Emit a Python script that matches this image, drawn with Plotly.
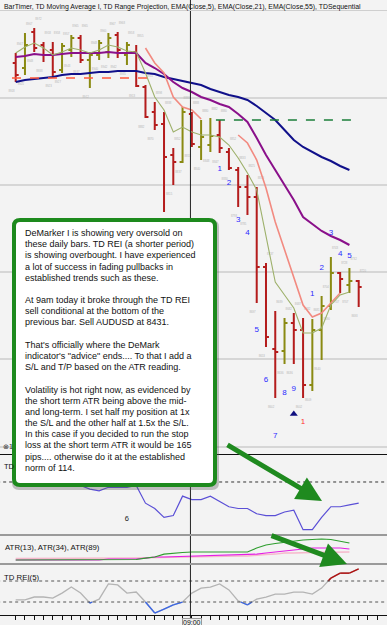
import plotly.graph_objects as go

W, H = 387, 625

# ---------------- data ----------------
bar_idx = list(range(38))
opens  = [8937, 8932, 8968, 8955, 8950, 8930, 8950, 8962, 8940, 8945, 8948, 8965, 8945, 8948, 8913, 8888, 8876, 8845, 8838, 8886,
          8853, 8855, 8865, 8848, 8830, 8813, 8803, 8733, 8651, 8649, 8677, 8670, 8615, 8670, 8694, 8727, 8715, 8719]
highs  = [8947, 8967, 8972, 8958, 8958, 8957, 8965, 8965, 8948, 8960, 8967, 8968, 8958, 8955, 8915, 8898, 8888, 8852, 8893, 8888,
          8880, 8882, 8880, 8852, 8833, 8825, 8813, 8737, 8689, 8682, 8687, 8682, 8681, 8704, 8743, 8728, 8732, 8720]
lows   = [8918, 8925, 8948, 8938, 8923, 8927, 8943, 8937, 8912, 8940, 8942, 8942, 8935, 8913, 8882, 8870, 8788, 8815, 8837, 8853,
          8840, 8848, 8847, 8830, 8793, 8785, 8697, 8653, 8602, 8636, 8636, 8602, 8609, 8640, 8690, 8707, 8707, 8693]
closes = [8925, 8955, 8952, 8945, 8928, 8954, 8962, 8940, 8945, 8957, 8962, 8950, 8955, 8914, 8883, 8875, 8843, 8838, 8888, 8856,
          8863, 8864, 8852, 8832, 8813, 8803, 8733, 8663, 8648, 8677, 8670, 8615, 8670, 8694, 8727, 8721, 8719, 8713]

ema5 = [8947, 8953, 8957, 8952, 8945, 8948, 8952, 8950, 8947, 8950, 8955, 8953, 8949, 8948, 8927, 8903, 8890, 8868, 8873, 8868,
        8865, 8865, 8863, 8855, 8842, 8827, 8810, 8765, 8718, 8705, 8692, 8667, 8667, 8672, 8695, 8705, 8708]
ema21 = [8943, 8944, 8946, 8945, 8945, 8946, 8947, 8947, 8947, 8947, 8948, 8947, 8947, 8947, 8937, 8932, 8926, 8918, 8912, 8908,
         8903, 8900, 8896, 8893, 8886, 8878, 8862, 8845, 8830, 8815, 8800, 8783, 8776, 8769, 8764, 8760, 8755]
ema55 = [8918, 8920, 8921, 8922, 8923, 8925, 8926, 8926, 8927, 8928, 8928, 8929, 8929, 8929, 8927, 8926, 8923, 8921, 8919, 8917,
         8915, 8911, 8908, 8905, 8903, 8900, 8894, 8887, 8880, 8870, 8860, 8853, 8848, 8843, 8839, 8834, 8830]
td_ma = [None] * 14 + [8952, 8937, 8927, 8903, 8893, 8890, 8881] + [None] * 3 + \
        [8865, 8857, 8840, 8812, 8778, 8751, 8723, 8695, 8683, 8687, 8697, 8707]

range_proj_level = 8922
range_proj_span = [-0.4, 14.5]
buy_level = 8880
buy_span = [21.6, 36.6]

price_grid = [8902, 8815, 8728, 8641, 8553]

# TD Sequential labels
seq1_bars = [22, 23, 24, 25, 26, 27, 28, 29, 30]
seq1_offsets = [16, 13, 13, 18, 27, 33, 38, 29, 25]     # pips below the low
seq2_bars = [32, 33, 34, 35, 36]
seq2_offsets = [25, 28, 24, 18, 12]                     # pips above the high
perf_bar, perf_offset = 31, 24
arrow_bar, arrow_offset = 30, 50

# DeMarker
dem_x = list(range(38))
dem = [0.33, 0.35, 0.37, 0.36, 0.33, 0.31, 0.29, 0.28, 0.26, 0.25, 0.27, 0.27, 0.27, 0.28, 0.18, 0.15, 0.10, 0.11, 0.22, 0.20,
       0.20, 0.22, 0.19, 0.16, 0.15, 0.15, 0.12, 0.11, 0.11, 0.13, 0.14, 0.03, 0.03, 0.10, 0.16, 0.16, 0.17, 0.18]
dem_level = 0.30

# ATR
atr_x = list(range(37))
atr13 = [80, 80, 80, 80, 80, 80, 80, 80, 80, 80, 80, 80, 80, 82, 88, 93, 105, 110, 112, 114,
         114, 114, 114, 114, 114, 114, 131, 144, 150, 156, 161, 165, 167, 169, 167, 161, 152]
atr34 = [80, 80, 80, 80, 80, 80, 80, 80, 80, 80, 84, 84, 84, 84, 88, 93, 93, 94, 95, 95,
         96, 97, 98, 99, 100, 101, 105, 110, 114, 118, 122, 127, 131, 131, 131, 131, 127]
atr89 = [86, 86, 86, 86, 86, 86, 86, 86, 86, 86, 88, 88, 88, 89, 90, 91, 91, 92, 92, 93,
         93, 97, 97, 97, 97, 97, 101, 103, 105, 110, 110, 112, 112, 113, 113, 114, 114]

# TD REI
rei_x = list(range(38))
rei = [-32, -32, -21, -21, -25, -6, 17, -6, -44, -29, 29, 25, -6, -2, -40, -82, -67, -51, -40, -6,
       13, 17, 29, 6, -36, -51, -29, -21, -10, -10, -2, -2, -10, 13, 51, 70, 70, 86]
rei_levels = [40, -40]

x_ticks = list(range(40))
time_label_bar = 19
time_label = "09:00"
crosshair_bar = 18.85

note_lines = [
    "DeMarker I is showing very oversold on",
    "these daily bars. TD REI (a shorter period)",
    "is showing overbought. I have experienced",
    "a lot of success in fading pullbacks in",
    "established trends such as these.",
    "",
    "At 9am today it broke through the TD REI",
    "sell conditional at the bottom of the",
    "previous bar. Sell AUDUSD at 8431.",
    "",
    "That's officially where the DeMark",
    "indicator's \"advice\" ends.... To that I add a",
    "S/L and T/P based on the ATR reading.",
    "",
    "Volatility is hot right now, as evidenced by",
    "the short term ATR being above the mid-",
    "and long-term. I set half my position at 1x",
    "the S/L and the other half at 1.5x the S/L.",
    "In this case if you decided to run the stop",
    "loss at the short term ATR it would be 165",
    "pips.... otherwise do it at the established",
    "norm of 114.",
]

title_text = ("BarTimer, TD Moving Average I, TD Range Projection, EMA(Close,5), "
              "EMA(Close,21), EMA(Close,55), TDSequential")

# ---------------- style ----------------
BG = "#f3f3f3"
OLIVE = "#8a8a12"
DRED = "#b41c1c"
FONT = "Liberation Sans"


def px(x):
    return x / W


def py(y):
    return 1 - y / H


fig = go.Figure()

# price bars
fig.add_trace(go.Ohlc(
    x=bar_idx, open=opens, high=highs, low=lows, close=closes,
    increasing=dict(line=dict(color=OLIVE, width=2)),
    decreasing=dict(line=dict(color=DRED, width=2)),
    tickwidth=0.32, hoverinfo="skip", xaxis="x", yaxis="y", showlegend=False))

# tiny price tags around bars
tag_x = [k + 0.45 for k in bar_idx] + [k - 0.45 for k in bar_idx]
tag_y = [h + 9 for h in highs] + [l - 9 for l in lows]
tag_t = [str(h) for h in highs] + [str(l) for l in lows]
fig.add_trace(go.Scatter(x=tag_x, y=tag_y, text=tag_t, mode="text",
                         textfont=dict(size=2.8, color="#b4b4b4", family=FONT),
                         hoverinfo="skip", showlegend=False))

# moving averages
ema_x = list(range(len(ema5)))
fig.add_trace(go.Scatter(x=ema_x, y=ema55, mode="lines", line=dict(color="#10108a", width=2),
                         hoverinfo="skip", showlegend=False))
fig.add_trace(go.Scatter(x=ema_x, y=ema21, mode="lines", line=dict(color="#8a108a", width=2),
                         hoverinfo="skip", showlegend=False))
fig.add_trace(go.Scatter(x=list(range(len(td_ma))), y=td_ma, mode="lines", connectgaps=False,
                         line=dict(color="#f28a80", width=1.6), hoverinfo="skip", showlegend=False))
fig.add_trace(go.Scatter(x=ema_x, y=ema5, mode="lines", line=dict(color="#9db06a", width=1.1),
                         hoverinfo="skip", showlegend=False))

# dashed levels
fig.add_trace(go.Scatter(x=range_proj_span, y=[range_proj_level] * 2, mode="lines",
                         line=dict(color="#ff5a3c", width=1.5, dash="dash"), hoverinfo="skip", showlegend=False))
fig.add_trace(go.Scatter(x=buy_span, y=[buy_level] * 2, mode="lines",
                         line=dict(color="#1b7f3a", width=1.5, dash="dash"), hoverinfo="skip", showlegend=False))

# TD sequential counts
fig.add_trace(go.Scatter(
    x=seq1_bars, y=[lows[b] - o for b, o in zip(seq1_bars, seq1_offsets)],
    text=[str(i + 1) for i in range(len(seq1_bars))], mode="text",
    textfont=dict(size=8, color="#2a2aff", family=FONT), hoverinfo="skip", showlegend=False))
fig.add_trace(go.Scatter(
    x=seq2_bars, y=[highs[b] + o for b, o in zip(seq2_bars, seq2_offsets)],
    text=[str(i + 1) for i in range(len(seq2_bars))], mode="text",
    textfont=dict(size=8, color="#2a2aff", family=FONT), hoverinfo="skip", showlegend=False))
fig.add_trace(go.Scatter(x=[perf_bar], y=[lows[perf_bar] - perf_offset], text=["1"], mode="text",
                         textfont=dict(size=8, color="#ff3030", family=FONT), hoverinfo="skip", showlegend=False))
fig.add_trace(go.Scatter(x=[arrow_bar], y=[lows[arrow_bar] - arrow_offset], mode="markers",
                         marker=dict(symbol="triangle-up", size=7, color="#101080"),
                         hoverinfo="skip", showlegend=False))

# DeMarker
fig.add_trace(go.Scatter(x=dem_x, y=dem, mode="lines", line=dict(color="#5a4fd6", width=1.2),
                         xaxis="x", yaxis="y2", hoverinfo="skip", showlegend=False))
fig.add_trace(go.Scatter(x=[12], y=[0.09], text=["6"], mode="text", xaxis="x", yaxis="y2",
                         textfont=dict(size=7.5, color="#222", family=FONT), hoverinfo="skip", showlegend=False))

# ATR
fig.add_trace(go.Scatter(x=atr_x, y=atr89, mode="lines", line=dict(color="#f6b8cc", width=1.5),
                         xaxis="x", yaxis="y3", hoverinfo="skip", showlegend=False))
fig.add_trace(go.Scatter(x=atr_x, y=atr34, mode="lines", line=dict(color="#e41ee4", width=1.1),
                         xaxis="x", yaxis="y3", hoverinfo="skip", showlegend=False))
fig.add_trace(go.Scatter(x=atr_x, y=atr13, mode="lines", line=dict(color="#2e9e2e", width=1.1),
                         xaxis="x", yaxis="y3", hoverinfo="skip", showlegend=False))


# TD REI with coloured extremes
def pieces(xs, ys, thr, above):
    ox, oy = [], []
    for i in range(len(xs) - 1):
        x0, y0, x1, y1 = xs[i], ys[i], xs[i + 1], ys[i + 1]
        c0 = y0 > thr if above else y0 < thr
        c1 = y1 > thr if above else y1 < thr
        if not (c0 or c1):
            continue
        sx0, sy0, sx1, sy1 = x0, y0, x1, y1
        if not c0:
            t = (thr - y0) / (y1 - y0)
            sx0, sy0 = x0 + t * (x1 - x0), thr
        if not c1:
            t = (thr - y0) / (y1 - y0)
            sx1, sy1 = x0 + t * (x1 - x0), thr
        ox += [sx0, sx1, None]
        oy += [sy0, sy1, None]
    return ox, oy


fig.add_trace(go.Scatter(x=rei_x, y=rei, mode="lines", line=dict(color="#b4b4b4", width=1.3),
                         xaxis="x", yaxis="y4", hoverinfo="skip", showlegend=False))
bx, by = pieces(rei_x, rei, rei_levels[1], False)
fig.add_trace(go.Scatter(x=bx, y=by, mode="lines", line=dict(color="#3a66e6", width=1.3),
                         xaxis="x", yaxis="y4", hoverinfo="skip", showlegend=False))
rx, ry = pieces(rei_x, rei, rei_levels[0], True)
fig.add_trace(go.Scatter(x=rx, y=ry, mode="lines", line=dict(color="#b01010", width=1.5),
                         xaxis="x", yaxis="y4", hoverinfo="skip", showlegend=False))

# level lines in oscillators
fig.add_trace(go.Scatter(x=[-2, 41], y=[dem_level] * 2, mode="lines",
                         line=dict(color="#333", width=1, dash="dot"), xaxis="x", yaxis="y2",
                         hoverinfo="skip", showlegend=False))
for lv in rei_levels:
    fig.add_trace(go.Scatter(x=[-2, 41], y=[lv] * 2, mode="lines",
                             line=dict(color="#555", width=1, dash="dot"), xaxis="x", yaxis="y4",
                             hoverinfo="skip", showlegend=False))

# ---------------- layout ----------------
x_left = -15.7 / 9.27
x_right = (W - 15.7) / 9.27

fig.update_layout(
    width=W, height=H, margin=dict(l=0, r=0, t=0, b=0),
    paper_bgcolor=BG, plot_bgcolor=BG, showlegend=False,
    xaxis=dict(range=[x_left, x_right], anchor="y4", showgrid=False, zeroline=False,
               tickmode="array", tickvals=x_ticks, ticks="outside", ticklen=4, tickcolor="#111",
               showticklabels=False, showline=False, rangeslider=dict(visible=False), fixedrange=True),
    yaxis=dict(domain=[py(454), 1.0], range=[9000 - 454, 9000], anchor="x",
               tickmode="array", tickvals=price_grid, showticklabels=False, showgrid=True,
               gridcolor="#d6d6d6", gridwidth=1.5, zeroline=False),
    yaxis2=dict(domain=[py(535), py(455)], range=[0, 80 / 176.7], anchor="x",
                showticklabels=False, showgrid=False, zeroline=False),
    yaxis3=dict(domain=[py(564), py(535)], range=[63, 186.25], anchor="x",
                showticklabels=False, showgrid=False, zeroline=False),
    yaxis4=dict(domain=[py(615), py(564)], range=[-89.5, 104.8], anchor="x",
                showticklabels=False, showgrid=False, zeroline=False),
)

shapes = []
# crosshair
shapes.append(dict(type="line", xref="x", yref="paper", x0=crosshair_bar, x1=crosshair_bar, y0=0, y1=1,
                   line=dict(color="#222", width=1), layer="above"))
# separators
shapes.append(dict(type="line", xref="paper", yref="paper", x0=0, x1=1, y0=py(10.5), y1=py(10.5),
                   line=dict(color="#cfcfcf", width=1), layer="above"))
shapes.append(dict(type="line", xref="paper", yref="paper", x0=0, x1=1, y0=py(454.5), y1=py(454.5),
                   line=dict(color="#111", width=1), layer="above"))
for yy in (535, 564):
    shapes.append(dict(type="line", xref="paper", yref="paper", x0=0, x1=1, y0=py(yy), y1=py(yy),
                       line=dict(color="#9a9a9a", width=2), layer="above"))
shapes.append(dict(type="line", xref="paper", yref="paper", x0=0, x1=1, y0=py(615.5), y1=py(615.5),
                   line=dict(color="#111", width=1), layer="above"))


def rrect(x0, y0, x1, y1, r):
    def P(x, y):
        return f"{px(x):.5f},{py(y):.5f}"
    return (f"M {P(x0 + r, y0)} L {P(x1 - r, y0)} Q {P(x1, y0)} {P(x1, y0 + r)} "
            f"L {P(x1, y1 - r)} Q {P(x1, y1)} {P(x1 - r, y1)} L {P(x0 + r, y1)} "
            f"Q {P(x0, y1)} {P(x0, y1 - r)} L {P(x0, y0 + r)} Q {P(x0, y0)} {P(x0 + r, y0)} Z")


# note box shadow + box
shapes.append(dict(type="path", xref="paper", yref="paper", path=rrect(12, 220, 219, 490, 7),
                   fillcolor="rgba(90,90,90,0.35)", line=dict(width=0), layer="above"))
shapes.append(dict(type="path", xref="paper", yref="paper", path=rrect(14, 220, 215, 485, 6),
                   fillcolor="#ffffff", line=dict(color="#1d8a1d", width=4), layer="above"))
fig.update_layout(shapes=shapes)

ann = []
ann.append(dict(xref="paper", yref="paper", x=px(2), y=py(1), xanchor="left", yanchor="top",
                text=title_text, showarrow=False, font=dict(size=6.9, color="#111", family=FONT)))
ann.append(dict(xref="paper", yref="paper", x=px(2), y=py(466), xanchor="left", yanchor="middle",
                text="TD", showarrow=False, font=dict(size=7.5, color="#111", family=FONT)))
ann.append(dict(xref="paper", yref="paper", x=px(1), y=py(447), xanchor="left", yanchor="middle",
                text="⊗1", showarrow=False, font=dict(size=7, color="#333", family="DejaVu Sans")))
ann.append(dict(xref="paper", yref="paper", x=px(3), y=py(547), xanchor="left", yanchor="middle",
                text="ATR(13), ATR(34), ATR(89)", showarrow=False, font=dict(size=7.8, color="#111", family=FONT)))
ann.append(dict(xref="paper", yref="paper", x=px(2), y=py(577), xanchor="left", yanchor="middle",
                text="TD REI(5)", showarrow=False, font=dict(size=7.8, color="#111", family=FONT)))
ann.append(dict(xref="x", yref="paper", x=time_label_bar, y=py(618), xanchor="center", yanchor="top",
                text=time_label, showarrow=False, font=dict(size=7, color="#111", family=FONT),
                bgcolor="#eeeeee", bordercolor="#999", borderwidth=1, borderpad=0))
# note text, one line at a time
for i, line in enumerate(note_lines):
    if not line:
        continue
    ann.append(dict(xref="paper", yref="paper", x=px(22.5), y=py(233 + 11.18 * i), xanchor="left",
                    yanchor="middle", text=line, showarrow=False,
                    font=dict(size=9.0, color="#111", family=FONT)))
# green arrows
ann.append(dict(xref="paper", yref="paper", x=px(322), y=py(501), ax=-96, ay=-57, text="",
                showarrow=True, arrowhead=2, arrowsize=1, arrowwidth=5, arrowcolor="#1f8a1f"))
ann.append(dict(xref="paper", yref="paper", x=px(347), y=py(564), ax=-77, ay=-29, text="",
                showarrow=True, arrowhead=2, arrowsize=1, arrowwidth=5, arrowcolor="#1f8a1f"))
fig.update_layout(annotations=ann)

fig.write_html("out.html", config={"displayModeBar": False})
